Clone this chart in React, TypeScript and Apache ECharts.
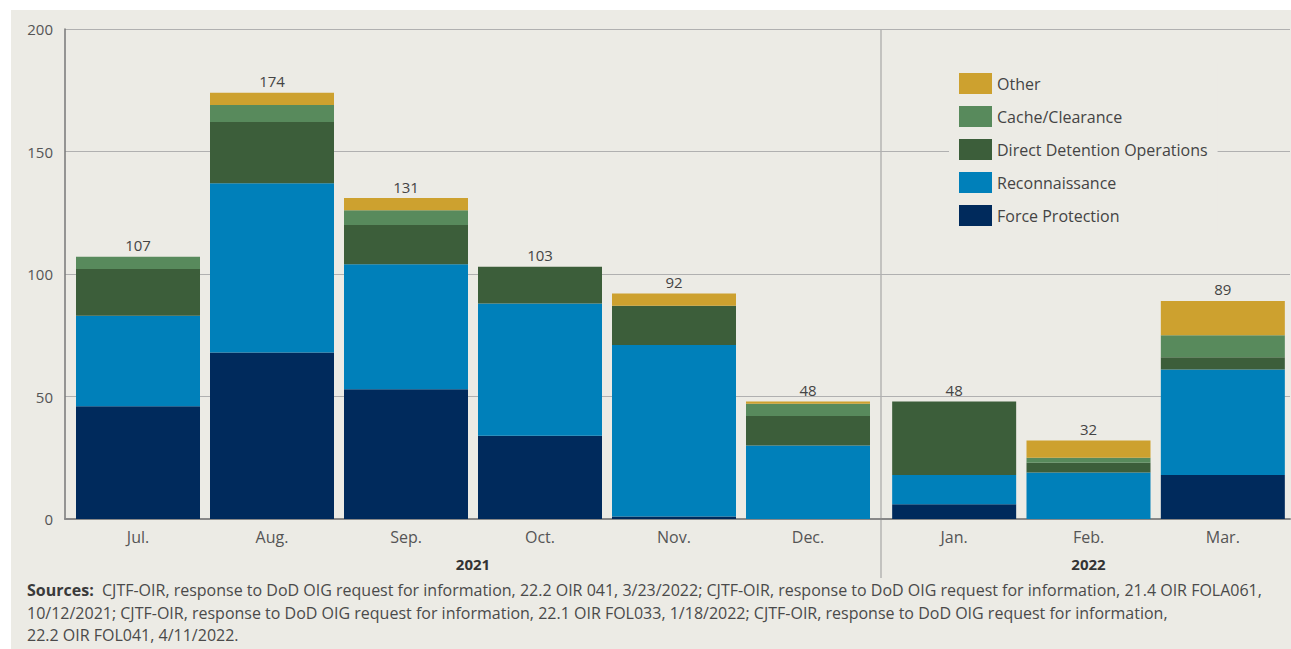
import React, { useEffect, useRef } from "react";
import * as echarts from "echarts";

const months = ["Jul.", "Aug.", "Sep.", "Oct.", "Nov.", "Dec.", "Jan.", "Feb.", "Mar."];
const years = ["2021", "2022"];
const splitAt = 6; // first 6 months are 2021, last 3 are 2022

const forceProtection = [46, 68, 53, 34, 1, 0, 6, 0, 18];
const reconnaissance = [37, 69, 51, 54, 70, 30, 12, 19, 43];
const directDetention = [19, 25, 16, 15, 16, 12, 30, 4, 5];
const cacheClearance = [5, 7, 6, 0, 0, 5, 0, 2, 9];
const other = [0, 5, 5, 0, 5, 1, 0, 7, 14];

const yMin = 0;
const yMax = 200;
const yInterval = 50;

const seriesDefs = [
  { name: "Force Protection", data: forceProtection, color: "#002A5C" },
  { name: "Reconnaissance", data: reconnaissance, color: "#0080BA" },
  { name: "Direct Detention Operations", data: directDetention, color: "#3C5E3A" },
  { name: "Cache/Clearance", data: cacheClearance, color: "#588A5C" },
  { name: "Other", data: other, color: "#CDA12F" },
];
const legendOrder = ["Other", "Cache/Clearance", "Direct Detention Operations", "Reconnaissance", "Force Protection"];

const sourcesLines = [
  "{b|Sources:}  CJTF-OIR, response to DoD OIG request for information, 22.2 OIR 041, 3/23/2022; CJTF-OIR, response to DoD OIG request for information, 21.4 OIR FOLA061,",
  "10/12/2021; CJTF-OIR, response to DoD OIG request for information, 22.1 OIR FOL033, 1/18/2022; CJTF-OIR, response to DoD OIG request for information,",
  "22.2 OIR FOL041, 4/11/2022.",
];

const FONT = "Open Sans";
const BG = "#ECEBE5";

export default function App() {
  const ref = useRef<HTMLDivElement>(null);

  useEffect(() => {
    if (!ref.current) return;
    const chart = echarts.init(ref.current, undefined, { renderer: "svg" });

    const totals = months.map((_, i) => seriesDefs.reduce((s, d) => s + d.data[i], 0));
    const groups = [
      { start: 0, end: splitAt },
      { start: splitAt, end: months.length },
    ];

    const series: any[] = [];
    groups.forEach((g, gi) => {
      seriesDefs.forEach((d) => {
        series.push({
          type: "bar",
          name: d.name,
          xAxisIndex: gi + 1,
          yAxisIndex: gi + 1,
          stack: "total" + gi,
          barWidth: 124,
          itemStyle: { color: d.color },
          data: d.data.slice(g.start, g.end),
        });
      });
      series.push({
        type: "bar",
        name: "Total" + gi,
        xAxisIndex: gi + 1,
        yAxisIndex: gi + 1,
        barWidth: 124,
        barGap: "-100%",
        itemStyle: { color: "rgba(0,0,0,0)" },
        label: {
          show: true,
          position: "top",
          distance: 4,
          color: "#444",
          fontSize: 15,
          fontFamily: FONT,
        },
        data: totals.slice(g.start, g.end),
        silent: true,
      });
    });

    const hiddenY = (gi: number) => ({
      type: "value",
      gridIndex: gi,
      min: yMin,
      max: yMax,
      interval: yInterval,
      show: false,
    });

    const catX = (gi: number, g: { start: number; end: number }, yearName: string) => ({
      type: "category",
      gridIndex: gi,
      data: months.slice(g.start, g.end),
      axisLine: { show: false },
      axisTick: { show: false },
      axisLabel: { color: "#555", fontSize: 16, fontFamily: FONT, margin: 10 },
      name: yearName,
      nameLocation: "middle",
      nameGap: 37,
      nameTextStyle: { color: "#333", fontSize: 15, fontWeight: "bold", fontFamily: FONT },
    });

    chart.setOption({
      animation: false,
      backgroundColor: "transparent",
      grid: [
        { left: 65, right: 1, top: 29, bottom: 130 },
        { left: 71, width: 804, top: 29, bottom: 130 },
        { left: 887, width: 403, top: 29, bottom: 130 },
      ],
      xAxis: [
        {
          type: "value",
          gridIndex: 0,
          min: 0,
          max: 1,
          axisLine: { show: true, lineStyle: { color: "#888", width: 2 } },
          axisTick: { show: false },
          axisLabel: { show: false },
          splitLine: { show: false },
        },
        catX(1, groups[0], years[0]),
        catX(2, groups[1], years[1]),
      ],
      yAxis: [
        {
          type: "value",
          gridIndex: 0,
          min: yMin,
          max: yMax,
          interval: yInterval,
          axisLine: { show: true, lineStyle: { color: "#777", width: 1.5 } },
          axisTick: { show: false },
          axisLabel: { color: "#555", fontSize: 15, fontFamily: FONT, margin: 12 },
          splitLine: { show: true, lineStyle: { color: "#B0B0B0", width: 1 } },
        },
        hiddenY(1),
        hiddenY(2),
      ],
      legend: {
        data: legendOrder,
        orient: "vertical",
        left: 949,
        top: 63,
        padding: 10,
        backgroundColor: BG,
        itemWidth: 33,
        itemHeight: 21,
        itemGap: 12,
        icon: "rect",
        selectedMode: false,
        textStyle: { color: "#444", fontSize: 16, fontFamily: FONT },
      },
      graphic: [
        {
          type: "line",
          shape: { x1: 881, y1: 29, x2: 881, y2: 578 },
          style: { stroke: "#999", lineWidth: 1 },
        },
        ...sourcesLines.map((t, i) => ({
          type: "text",
          left: 27,
          top: 582 + i * 22.5,
          style: {
            text: t,
            fill: "#4A4A4A",
            fontSize: 16,
            fontFamily: FONT,
            rich: {
              b: { fontWeight: "bold", fill: "#3A3A3A", fontSize: 16, fontFamily: FONT },
            },
          },
        })),
      ],
      series,
    });

    return () => chart.dispose();
  }, []);

  return (
    <div style={{ position: "absolute", left: 0, top: 0, width: 1291, height: 649, background: "#fff" }}>
      <div style={{ position: "absolute", left: 11, top: 10, right: 0, bottom: 0, background: BG }} />
      <div ref={ref} style={{ position: "absolute", left: 0, top: 0, width: 1291, height: 649 }} />
    </div>
  );
}
